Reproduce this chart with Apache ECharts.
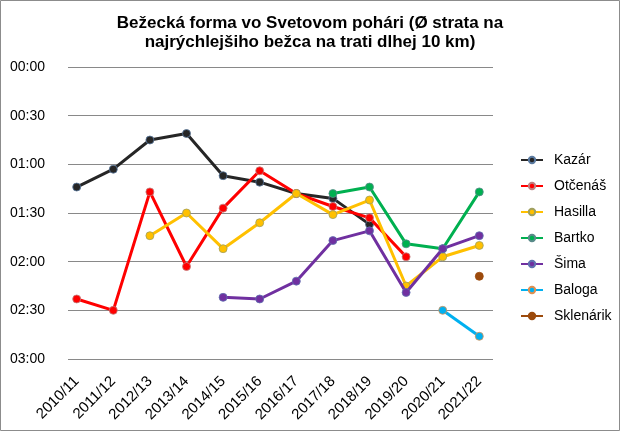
<!DOCTYPE html>
<html>
<head>
<meta charset="utf-8">
<script src="https://cdn.jsdelivr.net/npm/echarts@6/dist/echarts.min.js"></script>
<style>
html,body{margin:0;padding:0;background:#fff;}
#c{width:620px;height:431px;}
</style>
</head>
<body>
<div id="c"></div>
<script>
// Seasons (categories)
var categories = ['2010/11','2011/12','2012/13','2013/14','2014/15','2015/16','2016/17','2017/18','2018/19','2019/20','2020/21','2021/22'];
// Average gap to fastest skier, in seconds
var kazar     = [74, 63, 45, 41, 67, 71, 78, 81, 97, null, null, null];
var otcenas   = [143, 150, 77, 123, 87, 64, 78, 86, 93, 117, null, null];
var hasilla   = [null, null, 104, 90, 112, 96, 78, 91, 82, 135, 117, 110];
var bartko    = [null, null, null, null, null, null, null, 78, 74, 109, 112, 77];
var sima      = [null, null, null, null, 142, 143, 132, 107, 101, 139, 112, 104];
var baloga    = [null, null, null, null, null, null, null, null, null, null, 150, 166];
var sklenarik = [null, null, null, null, null, null, null, null, null, null, null, 129];
// Y tick values (seconds) -> labels 00:00 ... 03:00
var yMin = 0, yMax = 180, yStep = 30;

var names  = ['Kazár','Otčenáš','Hasilla','Bartko','Šima','Baloga','Sklenárik'];
var values = [kazar, otcenas, hasilla, bartko, sima, baloga, sklenarik];
var colors = ['#262626','#ff0000','#ffc000','#00b050','#7030a0','#00b0f0','#9c4a0c'];
var borders = ['#5a7aa0','#c08080','#a0a060','#5a8a8a','#6070b0','#e09050','#9c4a0c'];

function fmt(v){
  var m = Math.floor(v/60), s = Math.round(v%60);
  return (m<10?'0':'')+m+':'+(s<10?'0':'')+s;
}

var FONT = '"Liberation Sans", Arial, sans-serif';
var chart = echarts.init(document.getElementById('c'), null, {renderer:'canvas'});

var series = names.map(function(n,i){
  return {
    name: n, type: 'line', xAxisIndex: 1, yAxisIndex: 1,
    data: values[i],
    symbol: 'circle', symbolSize: 8, showSymbol: true, showAllSymbol: true,
    connectNulls: false,
    lineStyle: {color: colors[i], width: 3},
    itemStyle: {color: colors[i], borderColor: borders[i], borderWidth: 0.8},
    z: 2 + i
  };
});

chart.setOption({
  animation: false,
  backgroundColor: '#fff',
  title: {
    text: 'Bežecká forma vo Svetovom pohári (Ø strata na\nnajrýchlejšiho bežca na trati dlhej 10 km)',
    left: 'center', top: 9,
    textStyle: {fontFamily: FONT, fontSize: 17, fontWeight: 'bold', color: '#000', lineHeight: 19}
  },
  graphic: [{
    type: 'rect', shape: {x: 0.5, y: 0.5, width: 619, height: 430},
    style: {fill: 'none', stroke: '#8c8c8c', lineWidth: 1}, silent: true, z: 100
  }],
  legend: {
    orient: 'vertical', left: 515, top: 148,
    itemWidth: 22, itemHeight: 8, itemGap: 12,
    data: names,
    textStyle: {fontFamily: FONT, fontSize: 14, color: '#000', padding: [0,0,0,6]}
  },
  grid: [
    {left: 68, right: 127, top: 67, bottom: 72},
    {left: 76.7, right: 140.7, top: 67, bottom: 72}
  ],
  xAxis: [
    {type: 'value', gridIndex: 0, min: 0, max: 1, show: false},
    {type: 'category', gridIndex: 1, data: categories, boundaryGap: false,
     axisLine: {show: false}, axisTick: {show: false}, splitLine: {show: false},
     axisLabel: {rotate: 45, interval: 0, margin: 20, fontFamily: FONT, fontSize: 15, color: '#000'}}
  ],
  yAxis: [
    {type: 'value', gridIndex: 0, inverse: true, min: yMin, max: yMax, interval: yStep,
     axisLine: {show: false}, axisTick: {show: false},
     splitLine: {show: true, lineStyle: {color: '#898989', width: 1}},
     axisLabel: {margin: 23, fontFamily: FONT, fontSize: 14, color: '#000', formatter: fmt}},
    {type: 'value', gridIndex: 1, inverse: true, min: yMin, max: yMax, interval: yStep, show: false}
  ],
  series: series
});
</script>
</body>
</html>
